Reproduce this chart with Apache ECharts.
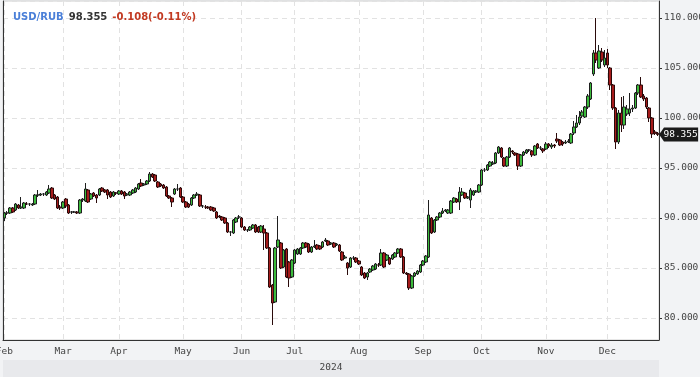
<!DOCTYPE html>
<html><head><meta charset="utf-8">
<script src="https://cdn.jsdelivr.net/npm/echarts@6/dist/echarts.min.js"></script>
<style>html,body{margin:0;padding:0;background:#f2f3f5}#c{width:700px;height:377px}</style>
</head><body><div id="c"></div>
<script>
const pairName = 'USD/RUB';
const yearLabel = '2024';
const months = ['Feb','Mar','Apr','May','Jun','Jul','Aug','Sep','Oct','Nov','Dec'];
const monthDays = [21,20,23,21,19,23,23,21,23,22,19];

const opens = [
 90.0,90.5,90.5,91.0,90.8,91.3,91.0,91.0,91.4,91.4,91.3,91.4,92.3,92.3,92.4,92.3,92.5,93.0,92.3,92.1,91.1,
 91.0,91.9,91.3,90.6,90.6,90.6,90.5,91.8,91.7,92.8,91.9,92.5,92.3,92.3,93.0,92.8,92.8,92.6,92.2,92.5,
 92.4,92.7,92.6,92.3,92.3,92.5,92.6,92.9,93.5,93.3,93.4,93.7,94.4,94.3,93.6,93.4,93.3,93.1,92.2,92.0,92.4,92.9,93.0,
 92.1,91.6,91.4,91.3,92.0,92.3,92.3,91.2,91.1,91.1,91.1,91.0,90.6,90.2,90.1,90.0,89.5,88.6,88.5,89.6,90.1,
 90.0,89.1,88.8,88.8,89.0,89.3,89.1,88.6,88.9,88.5,87.0,83.3,81.6,87.1,87.5,85.1,86.9,85.6,84.1,
 85.5,86.4,86.4,87.0,87.5,87.4,86.6,87.1,87.3,87.2,87.1,87.7,87.7,87.4,87.5,87.3,87.3,86.6,86.0,85.5,85.1,86.0,86.0,
 85.7,85.1,84.5,84.1,84.6,84.8,84.9,85.3,85.3,86.5,85.8,86.0,85.9,86.1,86.5,86.9,86.1,84.5,84.4,83.0,84.2,84.4,84.6,
 85.3,85.6,86.1,90.0,88.6,89.8,90.1,90.5,90.7,90.5,90.5,91.6,91.9,91.6,92.3,92.5,92.0,91.8,92.3,92.6,92.6,
 93.3,94.8,94.8,95.2,95.4,95.5,96.5,97.0,96.0,95.2,96.1,96.7,96.5,96.4,95.2,96.3,96.5,96.8,96.7,96.3,97.4,97.0,96.9,
 96.9,97.4,97.1,97.3,97.9,97.8,97.6,97.5,97.6,97.5,98.5,99.1,99.5,100.2,100.1,101.1,101.9,104.4,106.5,105.0,106.6,105.3,
 106.5,105.0,103.3,101.0,97.6,100.5,99.3,100.4,100.5,100.9,101.0,102.5,103.3,102.2,102.0,101.0,100.0,98.6,98.463
];
const closes = [
 90.5,90.5,91.0,90.6,91.4,91.0,91.1,91.5,91.4,91.4,91.4,92.3,92.3,92.4,92.4,92.6,92.9,92.0,91.9,91.0,91.0,
 91.6,91.2,90.5,90.6,90.6,90.5,91.8,91.9,92.9,91.6,92.4,92.2,92.0,92.9,92.7,92.6,92.3,92.1,92.6,92.5,
 92.7,92.4,92.2,92.4,92.6,92.8,93.0,93.4,93.2,93.4,93.7,94.4,94.1,93.7,93.1,93.2,93.0,92.2,92.0,91.6,92.9,92.9,92.1,
 91.6,91.1,91.1,92.0,92.3,92.4,91.2,91.2,91.1,91.0,90.8,90.7,90.0,90.1,89.8,89.5,88.6,88.6,89.8,90.0,90.1,
 89.1,88.8,88.8,89.1,89.3,88.6,88.6,89.2,88.5,87.0,83.1,81.5,87.0,87.8,85.0,86.8,84.1,84.0,85.8,
 86.8,86.9,87.0,87.5,87.1,86.6,87.1,87.2,86.9,86.9,87.6,87.8,87.3,87.5,87.1,87.4,86.7,85.8,86.1,85.0,86.0,86.0,85.6,
 85.4,84.3,84.0,84.5,84.9,85.2,85.4,85.3,86.5,85.1,86.3,85.4,86.3,86.5,86.9,86.1,84.5,84.4,83.0,84.2,84.5,84.7,85.3,
 85.7,86.2,90.3,88.5,89.8,90.1,90.5,90.7,90.8,90.8,91.7,92.0,91.6,92.6,92.6,92.0,92.1,92.8,92.7,92.7,93.3,
 94.8,94.8,95.3,95.6,95.5,96.5,97.1,96.1,95.2,96.1,97.0,96.6,96.3,95.2,96.3,96.6,96.8,96.8,96.3,97.2,97.0,97.0,96.7,
 97.4,97.2,97.3,97.2,97.7,97.3,97.4,97.6,97.7,98.4,99.1,99.5,100.1,100.6,101.1,102.2,103.5,106.5,105.8,106.7,105.8,106.0,
 105.3,103.3,101.0,97.6,100.5,99.3,101.1,100.9,100.9,101.0,102.5,103.3,102.1,101.9,101.1,100.0,98.4,98.463,98.355
];
const lows = [
 89.7,90.3,90.4,90.5,90.7,90.9,90.9,90.9,91.3,91.2,91.2,91.3,92.1,92.2,92.2,92.2,92.4,91.9,91.8,90.9,90.8,
 90.9,91.0,90.4,90.4,90.5,90.4,90.4,91.6,91.6,91.5,91.8,92.1,91.5,92.2,92.6,92.5,91.9,92.0,92.1,92.3,
 92.3,92.3,91.9,92.2,92.2,92.4,92.5,92.8,93.1,93.2,93.3,93.6,94.0,93.6,93.0,93.1,92.9,92.1,91.9,91.1,92.3,92.7,92.0,
 91.5,91.0,91.0,91.2,91.9,92.2,91.1,91.0,90.9,90.9,90.7,90.6,89.9,90.0,89.7,89.4,88.5,88.2,88.4,89.5,89.9,
 89.0,88.7,88.6,88.7,88.9,88.5,88.5,88.5,86.8,86.9,83.0,79.3,81.5,87.0,84.9,85.0,84.0,83.1,84.0,
 85.4,86.3,86.3,86.9,87.0,86.5,86.5,87.0,86.8,86.8,87.0,87.6,87.2,87.3,87.0,87.2,86.6,85.7,85.9,84.3,85.0,85.8,85.5,
 85.3,84.2,83.9,83.8,84.5,84.7,84.8,85.1,85.2,85.0,85.7,85.3,85.8,86.0,86.4,86.0,84.4,84.3,82.8,82.9,84.1,84.3,84.5,
 85.2,85.5,86.0,88.4,88.5,89.7,90.0,90.4,90.6,90.4,90.4,91.5,91.5,90.8,92.2,91.9,91.9,91.0,92.2,92.5,92.5,
 93.2,94.6,94.7,95.1,95.3,95.4,96.4,96.0,95.1,95.1,96.0,96.4,96.2,94.8,95.1,96.2,96.4,96.6,96.1,96.2,96.9,96.8,96.5,
 96.8,97.0,96.9,97.0,97.5,97.2,97.2,97.4,97.5,97.4,98.3,99.0,99.3,100.0,100.0,100.9,101.8,104.2,105.5,104.9,105.6,105.1,
 105.0,102.8,100.8,96.9,97.4,98.6,98.9,100.2,100.2,100.6,100.9,102.3,102.0,101.7,100.9,99.6,98.0,98.3,98.2
];
const highs = [
 90.6,90.7,91.1,91.1,91.5,91.4,92.1,91.6,91.6,91.5,91.5,92.4,92.8,92.5,92.5,92.7,93.3,93.1,92.4,92.2,91.3,
 91.7,92.0,91.4,90.7,90.7,90.7,91.9,92.0,93.5,92.9,92.5,92.6,92.4,93.0,93.1,92.9,92.9,92.7,92.7,92.6,
 92.8,92.8,92.7,92.5,92.7,92.9,93.1,93.5,93.9,93.5,93.8,94.6,94.5,94.4,93.7,93.5,93.4,93.2,92.3,92.1,93.0,93.4,93.1,
 92.2,91.7,91.5,92.1,92.4,92.6,92.4,91.3,91.3,91.2,91.2,91.1,90.7,90.3,90.2,90.1,89.6,88.7,89.9,90.1,90.3,
 90.1,89.2,88.9,89.2,89.4,89.4,89.2,89.3,89.3,88.6,87.1,83.4,87.1,90.2,87.6,86.9,87.0,85.7,85.9,
 86.9,87.0,87.1,87.6,87.6,87.5,87.2,87.8,87.4,87.3,87.7,88.0,87.8,87.6,87.6,87.5,87.4,86.7,86.3,85.6,86.1,86.2,86.1,
 85.8,85.2,84.6,84.6,85.0,85.3,85.5,85.5,86.9,86.6,86.4,86.1,86.4,86.6,87.0,87.0,86.2,84.6,84.5,84.3,84.6,84.8,85.4,
 85.8,86.3,91.8,90.1,89.9,90.2,90.6,91.0,90.9,90.9,91.8,92.1,92.0,93.1,93.0,92.6,92.2,93.0,92.8,92.8,93.4,
 94.9,95.0,95.4,95.7,95.7,96.6,97.2,97.1,96.1,96.2,97.1,96.8,96.6,96.5,96.4,96.7,96.9,96.9,96.8,97.3,97.5,97.2,97.0,
 97.6,97.5,97.5,97.4,98.5,97.9,97.7,97.8,97.9,98.5,99.7,100.3,100.7,100.8,101.2,102.4,103.6,106.8,110.0,107.3,107.0,106.8,
 106.9,105.1,103.4,101.1,100.8,102.1,102.2,101.3,102.5,101.3,102.6,103.4,104.1,102.4,102.1,101.1,100.1,98.8,98.6
];

// build category axis from months / trading-day counts
const categories = [];
const monthStart = new Set();
months.forEach((m, k) => {
  for (let d = 0; d < monthDays[k]; d++) {
    if (d === 0) monthStart.add(categories.length);
    categories.push(m + ' ' + (d + 1));
  }
});
const isStart = (i) => monthStart.has(i);
const ohlc = opens.map((o, i) => [o, closes[i], lows[i], highs[i]]);
const last = closes[closes.length - 1];
const prev = closes[closes.length - 2];
const chg = last - prev;
const pct = chg / prev * 100;

const mono = 'DejaVu Sans Mono';
const chart = echarts.init(document.getElementById('c'), null, {renderer: 'canvas'});
chart.setOption({
  animation: false,
  backgroundColor: '#f2f3f5',
  title: {
    left: 13, top: 8, padding: 0,
    text: '{a|' + pairName + '} {b|' + last.toFixed(3) + '} {c|' + chg.toFixed(3) + '(' + pct.toFixed(2) + '%)}',
    textStyle: {
      rich: {
        a: {color: '#4a7fd8', fontWeight: 'bold', fontSize: 10, fontFamily: 'DejaVu Sans'},
        b: {color: '#333333', fontWeight: 'bold', fontSize: 10, fontFamily: 'DejaVu Sans'},
        c: {color: '#c23a22', fontWeight: 'bold', fontSize: 10, fontFamily: 'DejaVu Sans'}
      }
    }
  },
  grid: {left: 3, right: 41, top: 1, bottom: 37, show: true, backgroundColor: '#ffffff', borderColor: '#cfcfcf', borderWidth: 1, containLabel: false, outerBoundsMode: 'none'},
  xAxis: {
    type: 'category', data: categories, boundaryGap: true,
    axisLine: {lineStyle: {color: '#333'}},
    axisTick: {interval: (i) => isStart(i), alignWithLabel: true, length: 4, lineStyle: {color: '#333'}},
    axisLabel: {interval: (i) => isStart(i), formatter: (v) => v.split(' ')[0], color: '#444', fontFamily: mono, fontSize: 9.5, margin: 7},
    splitLine: {show: true, interval: (i) => isStart(i), alignWithLabel: true, lineStyle: {color: '#e2e2e2', type: [5, 4]}}
  },
  yAxis: [{
    type: 'value', position: 'right', min: 77.8, max: 111.7, splitNumber: 7,
    axisLine: {show: true, lineStyle: {color: '#333'}},
    axisTick: {show: true, length: 3, lineStyle: {color: '#333'}},
    axisLabel: {formatter: (v) => v.toFixed(3), color: '#444', fontFamily: mono, fontSize: 9.5, margin: 5, showMinLabel: false, showMaxLabel: false},
    splitLine: {lineStyle: {color: '#e2e2e2', type: [5, 4]}}
  }, {
    type: 'value', position: 'left', min: 77.8, max: 111.7, splitNumber: 7,
    axisLine: {show: true, lineStyle: {color: '#333'}},
    axisTick: {show: false}, axisLabel: {show: false}, splitLine: {show: false}
  }],
  series: [{
    type: 'candlestick', data: ohlc, barWidth: 3, clip: false,
    itemStyle: {color: '#3cbb3c', color0: '#a61b1b', borderColor: '#1e1e1e', borderColor0: '#2a0a0a', borderWidth: 1},
    markPoint: {
      symbol: 'path://M0,7 L5,0 L40,0 L40,14 L5,14 Z',
      symbolSize: [39, 14], symbolKeepAspect: false,
      symbolOffset: [21, 0],
      itemStyle: {color: '#1b1b1b'},
      label: {show: true, position: 'inside', offset: [2, 0], color: '#fff', fontFamily: mono, fontSize: 9.5, formatter: () => last.toFixed(3)},
      data: [{coord: [categories.length - 1, last], value: last}]
    }
  }],
  graphic: [
    {type: 'rect', shape: {x: 3, y: 360, width: 656, height: 17}, style: {fill: '#e8e9ec'}, silent: true},
    {type: 'text', style: {text: yearLabel, x: 331, y: 368, textAlign: 'center', textVerticalAlign: 'middle', font: '9.5px "DejaVu Sans Mono"', fill: '#444'}, silent: true}
  ]
});
</script>
</body></html>
